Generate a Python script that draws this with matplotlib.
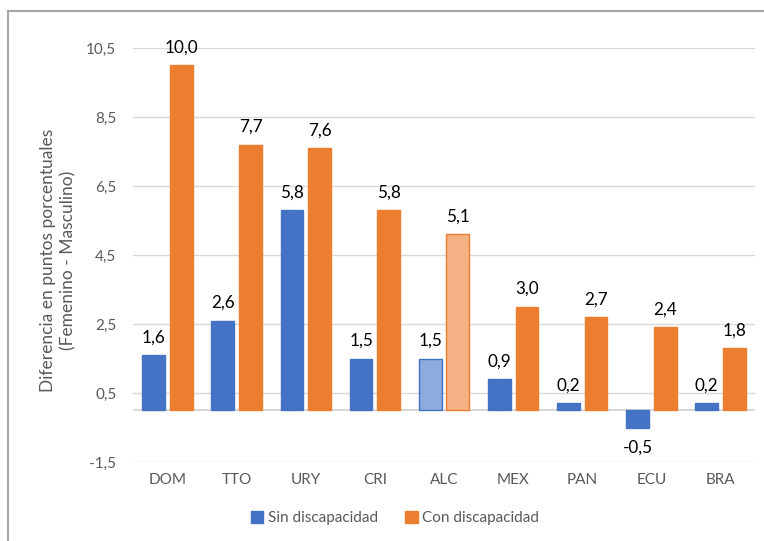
import numpy as np
import matplotlib.pyplot as plt
from matplotlib.patches import Rectangle, Patch

paises = ['DOM', 'TTO', 'URY', 'CRI', 'ALC', 'MEX', 'PAN', 'ECU', 'BRA']
sin_disc = [1.6, 2.6, 5.8, 1.5, 1.5, 0.9, 0.2, -0.5, 0.2]
con_disc = [10.0, 7.7, 7.6, 5.8, 5.1, 3.0, 2.7, 2.4, 1.8]
yticks = [-1.5, 0.5, 2.5, 4.5, 6.5, 8.5, 10.5]

plt.rcParams['font.family'] = ['Lato', 'DejaVu Sans']

azul, naranja = '#4472C4', '#ED7D31'
azul_claro, naranja_claro = '#8FAADC', '#F4B183'
gris = '#595959'

fig = plt.figure(figsize=(7.64, 5.41), dpi=100)
# marco exterior del grafico
fig.patches.append(Rectangle((8 / 764, -0.05), 1.0, 1 - 11 / 541 + 0.05,
                             transform=fig.transFigure, fill=False,
                             edgecolor='#A6A6A6', linewidth=1.5))
ax = fig.add_axes([133 / 764, 1 - 462 / 541, (755 - 133) / 764, (462 - 48) / 541])

x = np.arange(len(paises))
w = 0.33
c_sin = [azul_claro if p == 'ALC' else azul for p in paises]
c_con = [naranja_claro if p == 'ALC' else naranja for p in paises]
ax.bar(x - 0.2, sin_disc, w, color=c_sin, edgecolor=azul, linewidth=1, zorder=3)
ax.bar(x + 0.2, con_disc, w, color=c_con, edgecolor=naranja, linewidth=1, zorder=3)

for i in range(len(paises)):
    for xi, v in ((x[i] - 0.2, sin_disc[i]), (x[i] + 0.2, con_disc[i])):
        txt = f'{v:.1f}'.replace('.', ',')
        if v >= 0:
            ax.annotate(txt, (xi, v), xytext=(0, 7), textcoords='offset points',
                        ha='center', va='bottom', fontsize=12.3, color='black')
        else:
            ax.annotate(txt, (xi, v), xytext=(0, -9), textcoords='offset points',
                        ha='center', va='top', fontsize=12.3, color='black')

ax.set_xlim(-0.5, len(paises) - 0.5)
ax.set_ylim(-1.5, 10.5)
ax.set_yticks(yticks)
ax.set_yticklabels([f'{t:.1f}'.replace('.', ',') for t in yticks])
ax.set_xticks(x)
ax.set_xticklabels(paises)
ax.tick_params(length=0, labelsize=11, labelcolor=gris)
ax.tick_params(axis='x', pad=8)
ax.tick_params(axis='y', pad=12)
ax.yaxis.grid(True, color='#D9D9D9', linewidth=1, zorder=0)
ax.axhline(0, color='#D0D0D0', linewidth=1.2, zorder=2)
for s in ax.spines.values():
    s.set_visible(False)

fig.text(58 / 764, 1 - 260 / 541, 'Diferencia en puntos porcentuales\n(Femenino - Masculino)',
         rotation=90, ha='center', va='center', fontsize=12.5, color=gris,
         linespacing=1.3)

fig.legend(handles=[Patch(color=azul, label='Sin discapacidad'),
                    Patch(color=naranja, label='Con discapacidad')],
           loc='center', bbox_to_anchor=(395 / 764, 1 - 518 / 541), ncol=2,
           frameon=False, fontsize=11, labelcolor=gris, handlelength=0.8,
           handleheight=0.8, handletextpad=0.3, columnspacing=1.8)

fig.savefig('out.png', dpi=100)
